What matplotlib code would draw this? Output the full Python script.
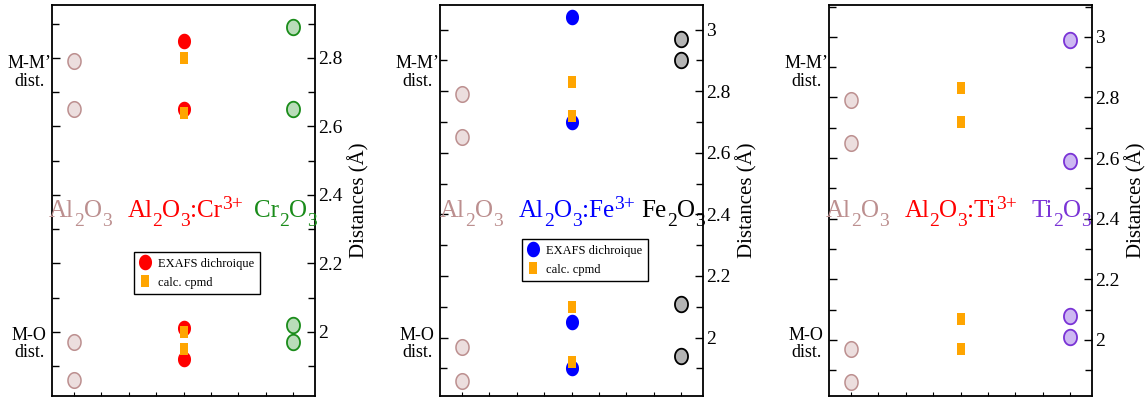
import numpy as np
import matplotlib
matplotlib.use("Agg")
import matplotlib.pyplot as plt
from matplotlib.path import Path
from matplotlib.ticker import MultipleLocator, FuncFormatter
from matplotlib.font_manager import FontProperties
from matplotlib.transforms import ScaledTranslation

plt.rcParams['font.family'] = ['Liberation Serif', 'DejaVu Serif']

# ---------------- data ----------------
al2o3 = [1.86, 1.97, 2.65, 2.79]

cr_exafs = [1.92, 2.01, 2.65, 2.85]
cr_cpmd = [1.95, 2.00, 2.64, 2.80]
cr2o3 = [1.97, 2.02, 2.65, 2.89]

fe_exafs = [1.90, 2.05, 2.70, 3.04]
fe_cpmd = [1.92, 2.10, 2.72, 2.83]
fe2o3 = [1.94, 2.11, 2.90, 2.97]

ti_exafs = []
ti_cpmd = [1.97, 2.07, 2.72, 2.83]
ti2o3 = [2.01, 2.08, 2.59, 2.99]

ylims = [(1.813, 2.954), (1.81, 3.08), (1.815, 3.105)]
host_label = [('Al', None), ('2', 'sub'), ('O', None), ('3', 'sub')]
doped_labels = [host_label + [(':Cr', None), ('3+', 'sup')],
                host_label + [(':Fe', None), ('3+', 'sup')],
                host_label + [(':Ti', None), ('3+', 'sup')]]
ref_labels = [[('Cr', None), ('2', 'sub'), ('O', None), ('3', 'sub')],
              [('Fe', None), ('2', 'sub'), ('O', None), ('3', 'sub')],
              [('Ti', None), ('2', 'sub'), ('O', None), ('3', 'sub')]]
legend_labels = ['EXAFS dichroique', 'calc. cpmd']
ylabel = 'Distances (Å)'
left_labels = ['M-M’\ndist.', 'M-O\ndist.']

# ---------------- styles ----------------
t = np.linspace(0, 2 * np.pi, 60)
ell = Path(np.column_stack([0.84 * np.cos(t), np.sin(t)]), closed=True)
rect = Path([(-0.36, -0.5), (0.36, -0.5), (0.36, 0.5), (-0.36, 0.5), (-0.36, -0.5)], closed=True)

host_style = dict(edge='#bc8f8f', face='#ecdede')
ref_styles = [dict(edge='#1a8c1a', face='#b9dcb9', text='#1a8c1a'),
              dict(edge='#000000', face='#b4b4b4', text='#000000'),
              dict(edge='#7a33d6', face='#cdb8f2', text='#7a33d6')]
doped_colors = ['#ff0000', '#0000ff', '#ff0000']
doped_text = ['#ff0000', '#0000ff', '#ff0000']
cpmd_color = '#ffa500'

exafs_data = [cr_exafs, fe_exafs, ti_exafs]
cpmd_data = [cr_cpmd, fe_cpmd, ti_cpmd]
ref_data = [cr2o3, fe2o3, ti2o3]

host_text_x = [0.108, 0.118, 0.107]
doped_text_x = [0.506, 0.52, 0.50]
ref_text_x = [0.888, 0.886, 0.884]
legend_anchor = [(0.312, 0.368), (0.312, 0.401), None]

fig = plt.figure(figsize=(11.47, 4.03), dpi=100)
renderer = fig.canvas.get_renderer()
lefts = [52 / 1147, 440 / 1147, 829 / 1147]
W = 263 / 1147
B = 1 - 396 / 403
H = 391 / 403

MS = 11.2
SQ = 8.6
LABEL_FS = 18
SUB_SCALE = 0.78


def rich_text(ax, x, y, pieces, fontsize, color):
    sizes, widths = [], []
    for s, kind in pieces:
        fs = fontsize * (SUB_SCALE if kind else 1.0)
        prop = FontProperties(family='Liberation Serif', size=fs)
        w, h, d = renderer.get_text_width_height_descent(s, prop, ismath=False)
        sizes.append(fs)
        widths.append(w * 72.0 / fig.dpi)
    off = -sum(widths) / 2.0
    for (s, kind), fs, w in zip(pieces, sizes, widths):
        dy = {None: 0.0, 'sub': -0.36 * fontsize, 'sup': 0.32 * fontsize}[kind]
        tr = ax.transAxes + ScaledTranslation(off / 72.0, dy / 72.0, fig.dpi_scale_trans)
        ax.text(x, y, s, transform=tr, ha='left', va='baseline', fontsize=fs,
                color=color, family='Liberation Serif')
        off += w


for i in range(3):
    ax = fig.add_axes([lefts[i], B, W, H])
    ax.set_xlim(0.8, 3.2)
    ax.set_ylim(*ylims[i])

    ax.plot([1] * len(al2o3), al2o3, ls='none', marker=ell, ms=MS,
            mfc=host_style['face'], mec=host_style['edge'], mew=1.1)
    rs = ref_styles[i]
    ax.plot([3] * len(ref_data[i]), ref_data[i], ls='none', marker=ell, ms=MS,
            mfc=rs['face'], mec=rs['edge'], mew=1.3)
    h1, = ax.plot([2] * len(exafs_data[i]), exafs_data[i], ls='none', marker=ell, ms=MS,
                  mfc=doped_colors[i], mec=doped_colors[i], mew=0, label=legend_labels[0])
    h2, = ax.plot([2] * len(cpmd_data[i]), cpmd_data[i], ls='none', marker=rect, ms=SQ,
                  mfc=cpmd_color, mec=cpmd_color, mew=0, label=legend_labels[1])

    # labels
    rich_text(ax, host_text_x[i], 0.458, host_label, LABEL_FS, host_style['edge'])
    rich_text(ax, doped_text_x[i], 0.458, doped_labels[i], LABEL_FS, doped_text[i])
    rich_text(ax, ref_text_x[i], 0.458, ref_labels[i], LABEL_FS, rs['text'])

    ax.text(-0.087, 0.827, left_labels[0], transform=ax.transAxes, ha='center', va='center',
            fontsize=13, linespacing=1.05)
    ax.text(-0.087, 0.133, left_labels[1], transform=ax.transAxes, ha='center', va='center',
            fontsize=13, linespacing=1.05)

    # axes styling
    ax.yaxis.set_major_locator(MultipleLocator(0.2))
    ax.yaxis.set_minor_locator(MultipleLocator(0.1))
    ax.yaxis.set_major_formatter(FuncFormatter(lambda v, p: '%g' % round(v, 2)))
    ax.xaxis.set_major_locator(MultipleLocator(0.25))
    ax.tick_params(axis='y', which='both', direction='in', left=True, right=True,
                   labelleft=False, labelright=True, labelsize=14, pad=2, width=1.0)
    ax.tick_params(axis='y', which='major', length=6)
    ax.tick_params(axis='y', which='minor', length=5)
    ax.tick_params(axis='x', which='major', direction='in', length=3, width=0.8,
                   labelbottom=False, top=False)
    for s in ax.spines.values():
        s.set_linewidth(1.3)
    ax.yaxis.set_label_position('right')
    ax.set_ylabel(ylabel, fontsize=15, labelpad=4)

    if legend_anchor[i] is not None:
        leg = ax.legend(handles=[h1, h2], loc='upper left', bbox_to_anchor=legend_anchor[i],
                        fontsize=9, frameon=True, fancybox=False, borderaxespad=0,
                        handlelength=0.9, handletextpad=0.6, borderpad=0.45,
                        labelspacing=0.55, framealpha=1)
        leg.get_frame().set_edgecolor('black')
        leg.get_frame().set_linewidth(1.0)

fig.savefig('out.png', dpi=100)
